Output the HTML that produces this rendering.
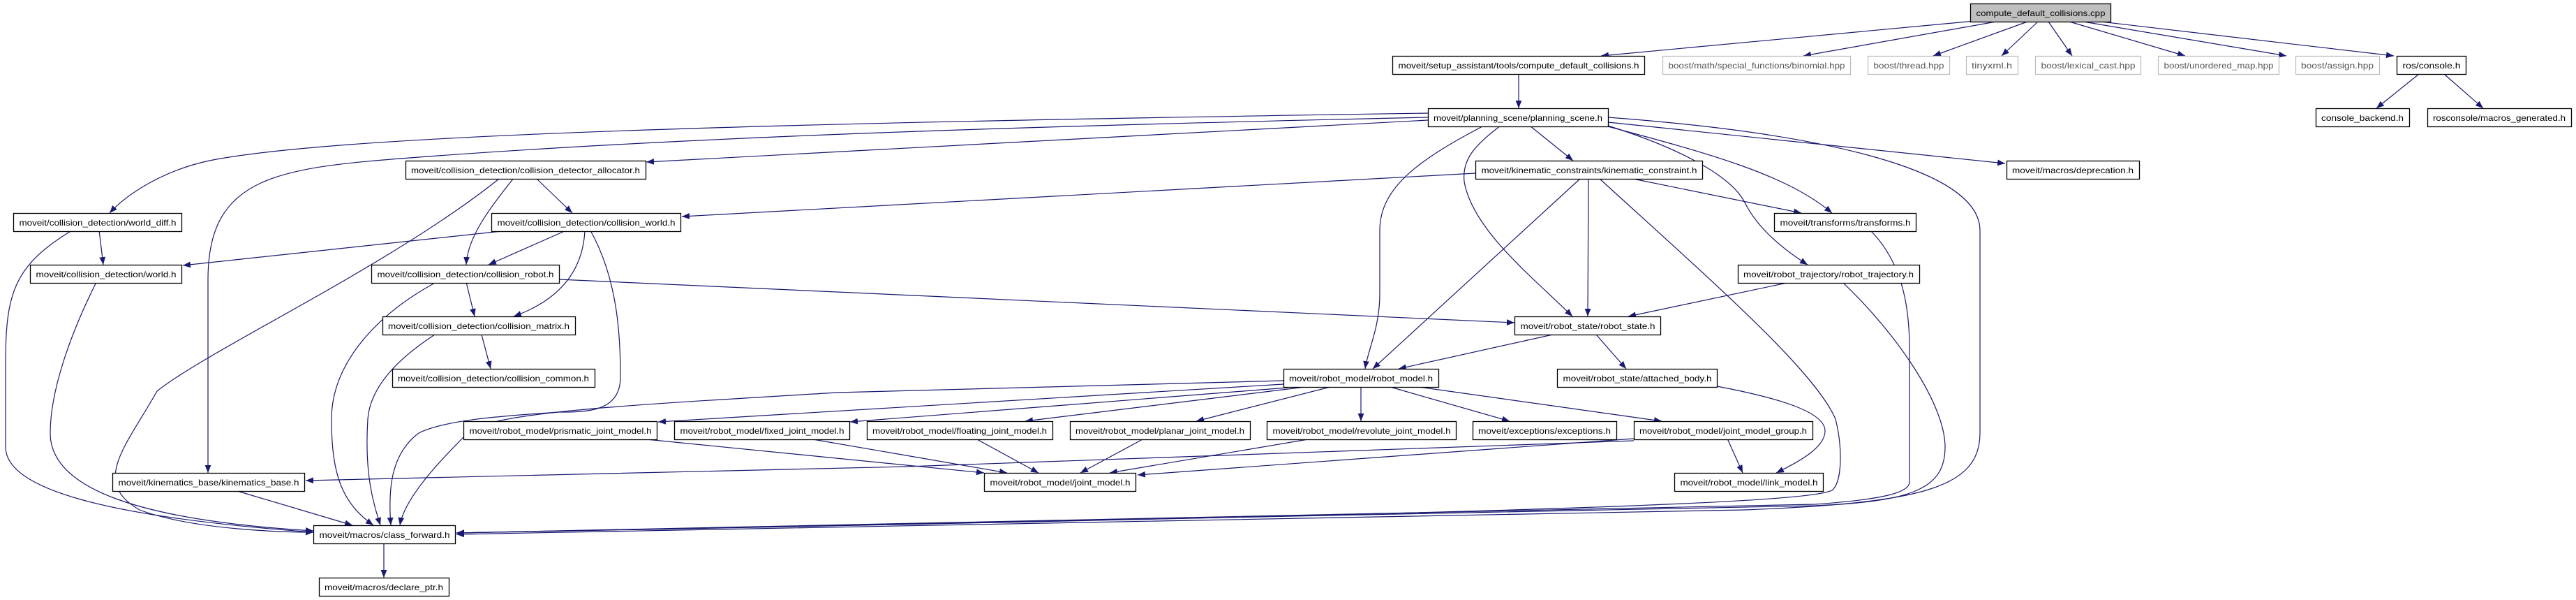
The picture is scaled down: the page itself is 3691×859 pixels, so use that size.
<!DOCTYPE html>
<html><head><meta charset="utf-8"><style>html,body{margin:0;padding:0;background:#fff}svg{display:block}</style></head>
<body>
<svg width="3691" height="859" viewBox="0 0 3691 859" xmlns="http://www.w3.org/2000/svg">
<defs>
<marker id="a" viewBox="0 0 10 10" refX="10" refY="5" markerWidth="11" markerHeight="11" markerUnits="userSpaceOnUse" orient="auto">
<path d="M0,1 L10,5 L0,9 z" fill="#191970"/></marker>
</defs>
<g fill="none" stroke="#191970" stroke-width="1.2" marker-end="url(#a)">
<path d="M2830,30 L2294,80"/>
<path d="M2860,31 L2584,80"/>
<path d="M2905,31 L2770,80"/>
<path d="M2920,31 L2868,80"/>
<path d="M2935,31 L2969,80"/>
<path d="M2965,31 L3131,80"/>
<path d="M2985,31 L3276,80"/>
<path d="M3010,31 L3430,80"/>
<path d="M3466,106 L3405,155"/>
<path d="M3502,106 L3558,155"/>
<path d="M2176,106 L2176,155"/>
<path d="M2046,162 C1200,175 500,190 300,230 C230,245 180,280 157,305"/>
<path d="M2046,168 C1500,180 1000,195 600,225 C400,240 298,250 298,400 L298,677"/>
<path d="M2046,172 L926,232"/>
<path d="M2192,180 L2254,230"/>
<path d="M2126,180 C2030,230 1977,270 1977,330 L1977,420 C1977,470 1960,500 1956,528"/>
<path d="M2150,180 C2110,210 2095,230 2098,260 C2110,330 2200,400 2253,453"/>
<path d="M2300,180 C2450,220 2560,250 2625,305"/>
<path d="M2304,180 C2400,210 2480,250 2500,290 C2520,330 2560,360 2590,379"/>
<path d="M2304,175 L2873,234"/>
<path d="M2304,168 C2600,190 2837,240 2837,330 L2837,620 C2837,700 2750,720 2500,730 L654,765"/>
<path d="M768,255 L820,305"/>
<path d="M736,255 C700,300 670,340 668,379"/>
<path d="M715,256 C560,380 300,500 225,560 C180,640 130,690 200,730 C280,760 420,762 449,762"/>
<path d="M142,330 L148,379"/>
<path d="M103,330 C20,380 8,420 8,520 L8,640 C8,700 150,740 449,762"/>
<path d="M138,404 C100,480 72,560 72,620 C72,700 200,745 449,760"/>
<path d="M728,330 L262,380"/>
<path d="M811,330 L700,379"/>
<path d="M838,330 C835,390 800,430 736,453"/>
<path d="M846,330 C885,400 889,480 889,540 C889,590 840,590 800,590 C730,595 640,600 600,620 C560,650 556,700 560,752"/>
<path d="M668,404 L680,453"/>
<path d="M801,400 L2170,462"/>
<path d="M625,404 C540,450 475,520 475,600 C475,680 490,720 535,752"/>
<path d="M690,479 L703,528"/>
<path d="M623,479 C560,520 530,560 527,600 C522,680 535,720 545,752"/>
<path d="M2114,248 L977,310"/>
<path d="M2265,255 L1967,528"/>
<path d="M2276,255 L2275,453"/>
<path d="M2335,255 L2581,305"/>
<path d="M2291,255 C2450,400 2600,530 2630,600 C2640,640 2640,690 2625,702 C2590,720 2200,735 654,763"/>
<path d="M2680,330 C2730,380 2736,450 2736,500 L2736,690 C2736,705 2700,715 2600,722 L654,763"/>
<path d="M2565,404 L2333,453"/>
<path d="M2640,404 C2720,480 2787,580 2787,640 C2787,700 2740,718 2600,724 L654,763"/>
<path d="M2225,479 L2004,528"/>
<path d="M2287,479 L2330,528"/>
<path d="M2460,553 C2550,570 2615,590 2615,617 C2615,640 2580,660 2545,677"/>
<path d="M1839,545 L1200,562 C900,580 700,590 670,620 C640,650 580,710 573,752"/>
<path d="M1839,550 L943,604"/>
<path d="M1845,555 L1218,604"/>
<path d="M1870,554 L1469,603"/>
<path d="M1906,554 L1714,603"/>
<path d="M1950,554 L1950,603"/>
<path d="M1992,554 L2163,603"/>
<path d="M2033,554 L2381,603"/>
<path d="M916,628 L1410,677"/>
<path d="M1159,628 L1443,677"/>
<path d="M1398,628 L1488,677"/>
<path d="M1639,628 L1548,677"/>
<path d="M1880,628 L1590,677"/>
<path d="M2341,628 L1630,680"/>
<path d="M2341,631 L1300,668 L438,688"/>
<path d="M2475,628 L2497,677"/>
<path d="M340,703 L505,752"/>
<path d="M550,778 L550,827"/>
</g>
<g font-family="Liberation Sans, sans-serif" font-size="12" text-anchor="middle" fill="#000">
<g stroke-width="1.3">
<rect x="2823.5" y="5.5" width="201" height="26" fill="#bfbfbf" stroke="#000"/><text x="2924" y="23" textLength="185" lengthAdjust="spacingAndGlyphs">compute_default_collisions.cpp</text>
<rect x="1995.5" y="80.5" width="361" height="26" fill="#fff" stroke="#000"/><text x="2176" y="98" textLength="345" lengthAdjust="spacingAndGlyphs">moveit/setup_assistant/tools/compute_default_collisions.h</text>
<rect x="2382.5" y="80.5" width="269" height="26" fill="#fff" stroke="#bfbfbf"/><text x="2517" y="98" fill="#555" textLength="253" lengthAdjust="spacingAndGlyphs">boost/math/special_functions/binomial.hpp</text>
<rect x="2676.5" y="80.5" width="117" height="26" fill="#fff" stroke="#bfbfbf"/><text x="2735" y="98" fill="#555" textLength="101" lengthAdjust="spacingAndGlyphs">boost/thread.hpp</text>
<rect x="2817.5" y="80.5" width="74" height="26" fill="#fff" stroke="#bfbfbf"/><text x="2854" y="98" fill="#555" textLength="58" lengthAdjust="spacingAndGlyphs">tinyxml.h</text>
<rect x="2916.5" y="80.5" width="151" height="26" fill="#fff" stroke="#bfbfbf"/><text x="2992" y="98" fill="#555" textLength="135" lengthAdjust="spacingAndGlyphs">boost/lexical_cast.hpp</text>
<rect x="3092.5" y="80.5" width="173" height="26" fill="#fff" stroke="#bfbfbf"/><text x="3179" y="98" fill="#555" textLength="157" lengthAdjust="spacingAndGlyphs">boost/unordered_map.hpp</text>
<rect x="3289.5" y="80.5" width="120" height="26" fill="#fff" stroke="#bfbfbf"/><text x="3349" y="98" fill="#555" textLength="104" lengthAdjust="spacingAndGlyphs">boost/assign.hpp</text>
<rect x="3434.5" y="80.5" width="99" height="26" fill="#fff" stroke="#000"/><text x="3484" y="98" textLength="83" lengthAdjust="spacingAndGlyphs">ros/console.h</text>
<rect x="3318.5" y="155.5" width="134" height="26" fill="#fff" stroke="#000"/><text x="3385" y="173" textLength="118" lengthAdjust="spacingAndGlyphs">console_backend.h</text>
<rect x="3478.5" y="155.5" width="206" height="26" fill="#fff" stroke="#000"/><text x="3581" y="173" textLength="190" lengthAdjust="spacingAndGlyphs">rosconsole/macros_generated.h</text>
<rect x="2046.5" y="155.5" width="258" height="26" fill="#fff" stroke="#000"/><text x="2175" y="173" textLength="242" lengthAdjust="spacingAndGlyphs">moveit/planning_scene/planning_scene.h</text>
<rect x="581.5" y="230.5" width="344" height="26" fill="#fff" stroke="#000"/><text x="753" y="248" textLength="328" lengthAdjust="spacingAndGlyphs">moveit/collision_detection/collision_detector_allocator.h</text>
<rect x="2114.5" y="230.5" width="325" height="26" fill="#fff" stroke="#000"/><text x="2277" y="248" textLength="309" lengthAdjust="spacingAndGlyphs">moveit/kinematic_constraints/kinematic_constraint.h</text>
<rect x="2875.5" y="230.5" width="190" height="26" fill="#fff" stroke="#000"/><text x="2970" y="248" textLength="174" lengthAdjust="spacingAndGlyphs">moveit/macros/deprecation.h</text>
<rect x="19.5" y="305.5" width="241" height="26" fill="#fff" stroke="#000"/><text x="140" y="323" textLength="225" lengthAdjust="spacingAndGlyphs">moveit/collision_detection/world_diff.h</text>
<rect x="704.5" y="305.5" width="271" height="26" fill="#fff" stroke="#000"/><text x="840" y="323" textLength="255" lengthAdjust="spacingAndGlyphs">moveit/collision_detection/collision_world.h</text>
<rect x="2542.5" y="305.5" width="203" height="26" fill="#fff" stroke="#000"/><text x="2644" y="323" textLength="187" lengthAdjust="spacingAndGlyphs">moveit/transforms/transforms.h</text>
<rect x="43.5" y="379.5" width="217" height="26" fill="#fff" stroke="#000"/><text x="152" y="397" textLength="201" lengthAdjust="spacingAndGlyphs">moveit/collision_detection/world.h</text>
<rect x="532.5" y="379.5" width="269" height="26" fill="#fff" stroke="#000"/><text x="667" y="397" textLength="253" lengthAdjust="spacingAndGlyphs">moveit/collision_detection/collision_robot.h</text>
<rect x="2490.5" y="379.5" width="260" height="26" fill="#fff" stroke="#000"/><text x="2620" y="397" textLength="244" lengthAdjust="spacingAndGlyphs">moveit/robot_trajectory/robot_trajectory.h</text>
<rect x="548.5" y="453.5" width="276" height="26" fill="#fff" stroke="#000"/><text x="686" y="471" textLength="260" lengthAdjust="spacingAndGlyphs">moveit/collision_detection/collision_matrix.h</text>
<rect x="2170.5" y="453.5" width="209" height="26" fill="#fff" stroke="#000"/><text x="2275" y="471" textLength="193" lengthAdjust="spacingAndGlyphs">moveit/robot_state/robot_state.h</text>
<rect x="562.5" y="528.5" width="290" height="26" fill="#fff" stroke="#000"/><text x="707" y="546" textLength="274" lengthAdjust="spacingAndGlyphs">moveit/collision_detection/collision_common.h</text>
<rect x="1839.5" y="528.5" width="222" height="26" fill="#fff" stroke="#000"/><text x="1950" y="546" textLength="206" lengthAdjust="spacingAndGlyphs">moveit/robot_model/robot_model.h</text>
<rect x="2231.5" y="528.5" width="229" height="26" fill="#fff" stroke="#000"/><text x="2346" y="546" textLength="213" lengthAdjust="spacingAndGlyphs">moveit/robot_state/attached_body.h</text>
<rect x="664.5" y="603.5" width="277" height="26" fill="#fff" stroke="#000"/><text x="803" y="621" textLength="261" lengthAdjust="spacingAndGlyphs">moveit/robot_model/prismatic_joint_model.h</text>
<rect x="966.5" y="603.5" width="251" height="26" fill="#fff" stroke="#000"/><text x="1092" y="621" textLength="235" lengthAdjust="spacingAndGlyphs">moveit/robot_model/fixed_joint_model.h</text>
<rect x="1242.5" y="603.5" width="266" height="26" fill="#fff" stroke="#000"/><text x="1375" y="621" textLength="250" lengthAdjust="spacingAndGlyphs">moveit/robot_model/floating_joint_model.h</text>
<rect x="1533.5" y="603.5" width="258" height="26" fill="#fff" stroke="#000"/><text x="1662" y="621" textLength="242" lengthAdjust="spacingAndGlyphs">moveit/robot_model/planar_joint_model.h</text>
<rect x="1815.5" y="603.5" width="271" height="26" fill="#fff" stroke="#000"/><text x="1951" y="621" textLength="255" lengthAdjust="spacingAndGlyphs">moveit/robot_model/revolute_joint_model.h</text>
<rect x="2110.5" y="603.5" width="206" height="26" fill="#fff" stroke="#000"/><text x="2213" y="621" textLength="190" lengthAdjust="spacingAndGlyphs">moveit/exceptions/exceptions.h</text>
<rect x="2341.5" y="603.5" width="256" height="26" fill="#fff" stroke="#000"/><text x="2469" y="621" textLength="240" lengthAdjust="spacingAndGlyphs">moveit/robot_model/joint_model_group.h</text>
<rect x="161.5" y="677.5" width="275" height="26" fill="#fff" stroke="#000"/><text x="299" y="695" textLength="259" lengthAdjust="spacingAndGlyphs">moveit/kinematics_base/kinematics_base.h</text>
<rect x="1410.5" y="677.5" width="217" height="26" fill="#fff" stroke="#000"/><text x="1519" y="695" textLength="201" lengthAdjust="spacingAndGlyphs">moveit/robot_model/joint_model.h</text>
<rect x="2399.5" y="677.5" width="213" height="26" fill="#fff" stroke="#000"/><text x="2506" y="695" textLength="197" lengthAdjust="spacingAndGlyphs">moveit/robot_model/link_model.h</text>
<rect x="449.5" y="752.5" width="203" height="26" fill="#fff" stroke="#000"/><text x="551" y="770" textLength="187" lengthAdjust="spacingAndGlyphs">moveit/macros/class_forward.h</text>
<rect x="457.5" y="827.5" width="186" height="26" fill="#fff" stroke="#000"/><text x="550" y="845" textLength="170" lengthAdjust="spacingAndGlyphs">moveit/macros/declare_ptr.h</text>
</g>
</g>
</svg>
</body></html>
